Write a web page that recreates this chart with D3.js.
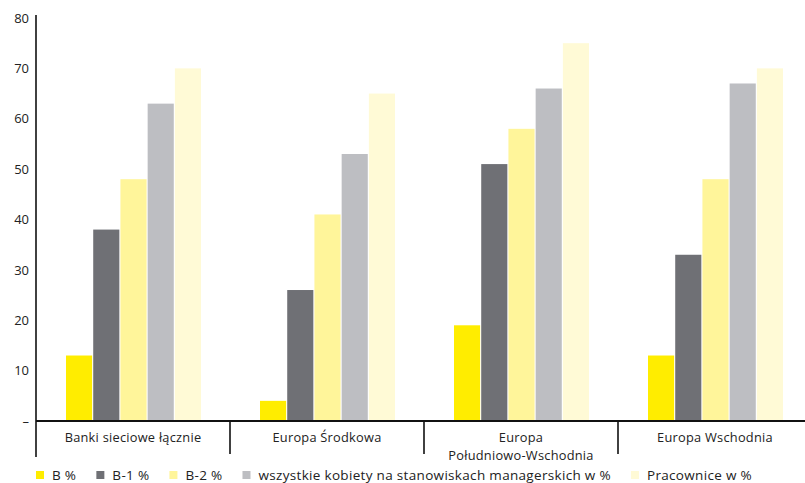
<!DOCTYPE html>
<html>
<head>
<meta charset="utf-8">
<script src="https://cdn.jsdelivr.net/npm/d3@7"></script>
<style>
    body { margin: 0; background: #fff; }
    text { font-family: "Open Sans", sans-serif; fill: #222; }
    .cat-label { font-size: 12.8px; letter-spacing: 0.25px; }
    .legend-label { font-size: 13.5px; letter-spacing: 0.32px; }
</style>
</head>
<body>
<div id="wrapper"></div>
<script>
const categories = [
    ["Banki sieciowe łącznie"],
    ["Europa Środkowa"],
    ["Europa", "Południowo-Wschodnia"],
    ["Europa Wschodnia"]
]
const seriesNames = ["B %", "B-1 %", "B-2 %", "wszystkie kobiety na stanowiskach managerskich w %", "Pracownice w %"]
const seriesColors = ["#ffed00", "#6f7075", "#fff59a", "#bdbec2", "#fffad6"]
const valuesB = [13, 4, 19, 13]
const valuesB1 = [38, 26, 51, 33]
const valuesB2 = [48, 41, 58, 48]
const valuesManagers = [63, 53, 66, 67]
const valuesWorkers = [70, 65, 75, 70]
const yTicks = [0, 10, 20, 30, 40, 50, 60, 70, 80]

const allSeries = [valuesB, valuesB1, valuesB2, valuesManagers, valuesWorkers]

function drawChart() {
    const width = 805
    const height = 483

    let dimensions = {
        left: 36,
        top: 18,
        baseline: 421,
        axisBottom: 457
    }

    const svg = d3.select('#wrapper')
        .append('svg')
        .attr('width', width)
        .attr('height', height)

    const yScale = d3.scaleLinear()
        .domain([0, 80])
        .range([dimensions.baseline, dimensions.top])

    const catIds = categories.map((d, i) => i)
    const xScale = d3.scaleBand()
        .domain(catIds)
        .range([dimensions.left, dimensions.left + 4 * 194])

    const innerScale = d3.scaleBand()
        .domain(seriesNames)
        .range([30, 30 + 5 * 27])
        .paddingInner(0.04)

    // bars
    const groups = svg.selectAll('.group')
        .data(catIds)
        .join('g')
        .attr('class', 'group')
        .attr('transform', d => `translate(${xScale(d)}, 0)`)

    groups.selectAll('rect')
        .data(ci => allSeries.map((s, si) => ({ name: seriesNames[si], color: seriesColors[si], value: s[ci] })))
        .join('rect')
        .attr('x', d => innerScale(d.name))
        .attr('width', innerScale.bandwidth())
        .attr('y', d => yScale(d.value))
        .attr('height', d => yScale(0) - yScale(d.value))
        .attr('fill', d => d.color)

    // y axis
    const yAxis = d3.axisLeft(yScale)
        .tickValues(yTicks)
        .tickSize(0)
        .tickPadding(7)
        .tickFormat(d => d === 0 ? '–' : d)

    const yAxisGroup = svg.append('g')
        .attr('transform', `translate(${dimensions.left}, 0)`)
        .call(yAxis)
    yAxisGroup.select('.domain').remove()
    yAxisGroup.selectAll('text')
        .style('font-family', '"Open Sans", sans-serif')
        .style('font-size', '13px')
        .attr('fill', '#222')

    svg.append('line')
        .attr('x1', dimensions.left)
        .attr('x2', dimensions.left)
        .attr('y1', yScale(80) - 3)
        .attr('y2', dimensions.axisBottom)
        .attr('stroke', '#111')
        .attr('stroke-width', 1.6)

    // baseline
    svg.append('line')
        .attr('x1', dimensions.left)
        .attr('x2', width)
        .attr('y1', yScale(0))
        .attr('y2', yScale(0))
        .attr('stroke', '#111')
        .attr('stroke-width', 1.8)

    // category separators
    svg.selectAll('.sep')
        .data(catIds.slice(1))
        .join('line')
        .attr('class', 'sep')
        .attr('x1', d => xScale(d))
        .attr('x2', d => xScale(d))
        .attr('y1', yScale(0))
        .attr('y2', dimensions.axisBottom - 3)
        .attr('stroke', '#111')
        .attr('stroke-width', 1.6)

    // category labels
    const catLabels = svg.selectAll('.cat-label')
        .data(catIds)
        .join('text')
        .attr('class', 'cat-label')
        .attr('text-anchor', 'middle')
        .attr('x', d => xScale(d) + xScale.bandwidth() / 2)
        .attr('y', 442)

    catLabels.selectAll('tspan')
        .data(d => categories[d])
        .join('tspan')
        .attr('x', function () { return d3.select(this.parentNode).attr('x') })
        .attr('dy', (d, i) => i === 0 ? 0 : 18)
        .text(d => d)

    // legend
    const legend = svg.append('g')
        .attr('transform', `translate(36, 480)`)

    let cursor = 0
    seriesNames.forEach((name, i) => {
        const item = legend.append('g')
            .attr('transform', `translate(${cursor}, 0)`)
        item.append('rect')
            .attr('x', 0)
            .attr('y', -9)
            .attr('width', 8)
            .attr('height', 8)
            .attr('fill', seriesColors[i])
        const label = item.append('text')
            .attr('class', 'legend-label')
            .attr('x', 16)
            .attr('y', 0)
            .text(name)
        cursor += 16 + label.node().getComputedTextLength() + 20
    })
}

drawChart()
</script>
</body>
</html>
